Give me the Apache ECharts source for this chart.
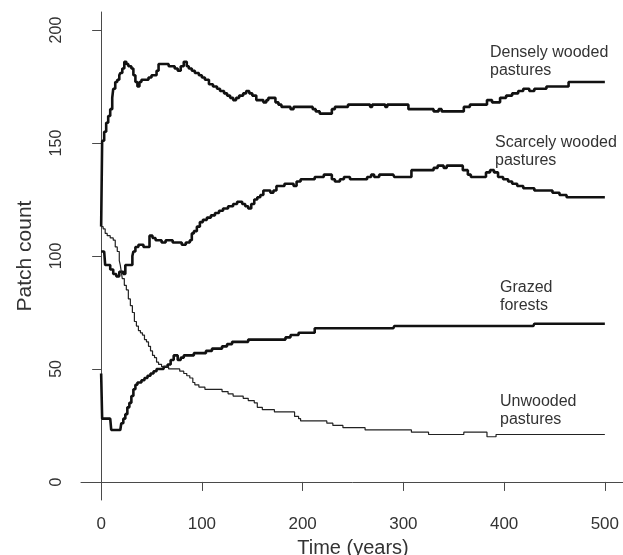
<!DOCTYPE html>
<html>
<head>
<meta charset="utf-8">
<script src="https://cdn.jsdelivr.net/npm/echarts@6/dist/echarts.min.js"></script>
<style>
html,body{margin:0;padding:0;background:#fff;}
#chart{width:623px;height:555px;}
</style>
</head>
<body>
<div id="chart"></div>
<script>
// Time (years), patch count pairs for each landscape class (step series)
var denselyWooded = [[0,113],[1,151],[3,155],[5,159],[7,162],[9,165],[11,170],[12,174],[14,177],[16,178],[18,180],[19,181],[21,183],[23,186],[25,185],[27,184],[30,183],[32,180],[34,177],[36,175],[38,177],[40,178],[44,178],[47,179],[50,180],[53,180],[55,182],[57,185],[60,185],[64,185],[67,184],[70,184],[73,183],[76,182],[79,184],[82,186],[85,184],[87,183],[90,182],[93,181],[97,180],[100,179],[103,178],[107,176],[111,175],[115,174],[118,173],[122,172],[125,171],[128,170],[131,169],[134,170],[137,171],[141,172],[144,173],[147,172],[150,171],[154,169],[158,169],[161,168],[164,169],[166,170],[170,170],[173,168],[176,167],[179,166],[184,166],[188,165],[191,166],[206,166],[210,165],[213,164],[217,163],[229,165],[232,166],[245,167],[265,167],[267,166],[269,167],[280,167],[282,166],[284,167],[300,167],[305,165],[330,164],[335,165],[338,164],[357,164],[360,166],[366,167],[380,167],[383,169],[388,168],[392,168],[396,170],[402,171],[408,172],[414,173],[419,174],[425,173],[430,174],[442,175],[452,175],[464,177],[500,177]];
var scarcelyWooded = [[0,102],[3,102],[4,96],[7,96],[9,94],[12,92],[15,91],[18,93],[20,93],[22,92],[24,96],[29,96],[31,100],[32,102],[34,104],[37,105],[40,105],[42,104],[45,104],[48,109],[51,108],[54,107],[57,107],[60,106],[64,107],[67,107],[71,106],[75,106],[80,105],[84,106],[88,107],[90,110],[92,111],[95,113],[98,115],[101,116],[105,117],[109,118],[113,119],[117,120],[121,121],[126,122],[131,123],[135,124],[140,123],[143,122],[146,121],[149,123],[152,125],[155,126],[158,127],[161,129],[165,129],[168,128],[171,129],[174,131],[178,131],[182,132],[188,132],[191,131],[194,133],[198,134],[208,134],[212,135],[218,135],[221,136],[226,136],[229,134],[232,133],[237,134],[241,135],[247,134],[260,134],[264,135],[268,136],[271,135],[276,136],[290,136],[291,135],[305,135],[308,138],[325,138],[330,139],[334,140],[340,139],[343,140],[355,140],[359,138],[364,136],[367,135],[378,135],[382,137],[386,138],[390,137],[394,135],[399,134],[404,133],[408,132],[413,131],[419,130],[428,130],[430,129],[444,129],[448,128],[455,127],[462,126],[500,126]];
var grazedForests = [[0,48],[1,28],[9,28],[10,23],[19,23],[20,26],[22,28],[24,30],[26,33],[28,35],[30,38],[32,41],[34,43],[36,44],[40,45],[43,46],[46,47],[49,48],[52,49],[55,50],[59,50],[62,51],[66,52],[69,54],[72,56],[76,54],[79,55],[82,56],[88,56],[92,57],[100,57],[104,58],[110,59],[117,59],[120,60],[125,61],[130,62],[140,62],[146,63],[180,63],[183,64],[188,65],[196,66],[210,66],[212,68],[290,68],[291,69],[429,69],[430,70],[500,70]];
var unwooded = [[0,113],[2,112],[4,110],[6,109],[9,108],[12,107],[14,104],[16,102],[18,98],[19,96],[20,93],[21,90],[23,87],[25,85],[27,81],[29,78],[31,75],[33,71],[35,69],[37,67],[39,66],[41,65],[43,63],[45,62],[47,60],[49,58],[51,56],[53,55],[55,53],[57,52],[60,51],[64,51],[67,50],[74,50],[78,49],[82,48],[85,47],[88,46],[91,44],[93,43],[97,42],[103,41],[116,41],[120,40],[126,39],[131,38],[136,38],[141,37],[146,36],[150,36],[152,35],[155,33],[160,32],[172,31],[189,31],[192,29],[196,28],[198,27],[222,27],[224,26],[230,25],[240,24],[262,23],[306,23],[308,22],[323,22],[325,21],[358,21],[360,22],[381,22],[383,20],[390,20],[392,21],[500,21]];

var xTicks = [0, 100, 200, 300, 400, 500];
var yTicks = [0, 50, 100, 150, 200];
var seriesNames = ['Densely wooded\npastures', 'Scarcely wooded\npastures', 'Grazed\nforests', 'Unwooded\npastures'];

var chart = echarts.init(document.getElementById('chart'), null, {renderer: 'canvas'});
var axisColor = '#4a4a4a';
var textColor = '#333';
var font = 'Liberation Sans, Arial, Helvetica, sans-serif';

function labelGraphic(text, x, y) {
  return {
    type: 'text', x: x, y: y, z: 10,
    style: {text: text, fill: textColor, fontSize: 16, fontFamily: font, lineHeight: 18, verticalAlign: 'top', align: 'left'}
  };
}

chart.setOption({
  animation: false,
  backgroundColor: '#fff',
  grid: {left: 81, top: 12, width: 544, height: 488, containLabel: false, outerBoundsMode: 'none'},
  xAxis: {
    type: 'value', min: -20, max: 520,
    name: 'Time (years)', nameLocation: 'middle', nameGap: 38,
    nameTextStyle: {fontSize: 20, color: textColor, fontFamily: font},
    axisLine: {show: true, lineStyle: {color: axisColor, width: 1}},
    axisTick: {show: true, length: 9, customValues: xTicks, lineStyle: {color: axisColor}},
    axisLabel: {customValues: xTicks, fontSize: 17, color: textColor, fontFamily: font, margin: 16},
    splitLine: {show: false}
  },
  yAxis: {
    type: 'value', min: -8, max: 208,
    name: 'Patch count', nameLocation: 'middle', nameGap: 45,
    nameTextStyle: {fontSize: 21, color: textColor, fontFamily: font},
    axisLine: {show: true, lineStyle: {color: axisColor, width: 1}},
    axisTick: {show: true, length: 9, customValues: yTicks, lineStyle: {color: axisColor}},
    axisLabel: {customValues: yTicks, fontSize: 16, color: textColor, fontFamily: font, margin: 16, rotate: 90},
    splitLine: {show: false}
  },
  series: [
    {name: seriesNames[0], type: 'line', step: 'end', data: denselyWooded, symbol: 'none', lineStyle: {color: '#111', width: 2.6}},
    {name: seriesNames[1], type: 'line', step: 'end', data: scarcelyWooded, symbol: 'none', lineStyle: {color: '#111', width: 2.6}},
    {name: seriesNames[2], type: 'line', step: 'end', data: grazedForests, symbol: 'none', lineStyle: {color: '#111', width: 2.6}},
    {name: seriesNames[3], type: 'line', step: 'end', data: unwooded, symbol: 'none', lineStyle: {color: '#222', width: 1.2}}
  ],
  graphic: [
    labelGraphic(seriesNames[0], 490, 44),
    labelGraphic(seriesNames[1], 495, 134),
    labelGraphic(seriesNames[2], 500, 279),
    labelGraphic(seriesNames[3], 500, 393)
  ]
});
</script>
</body>
</html>
